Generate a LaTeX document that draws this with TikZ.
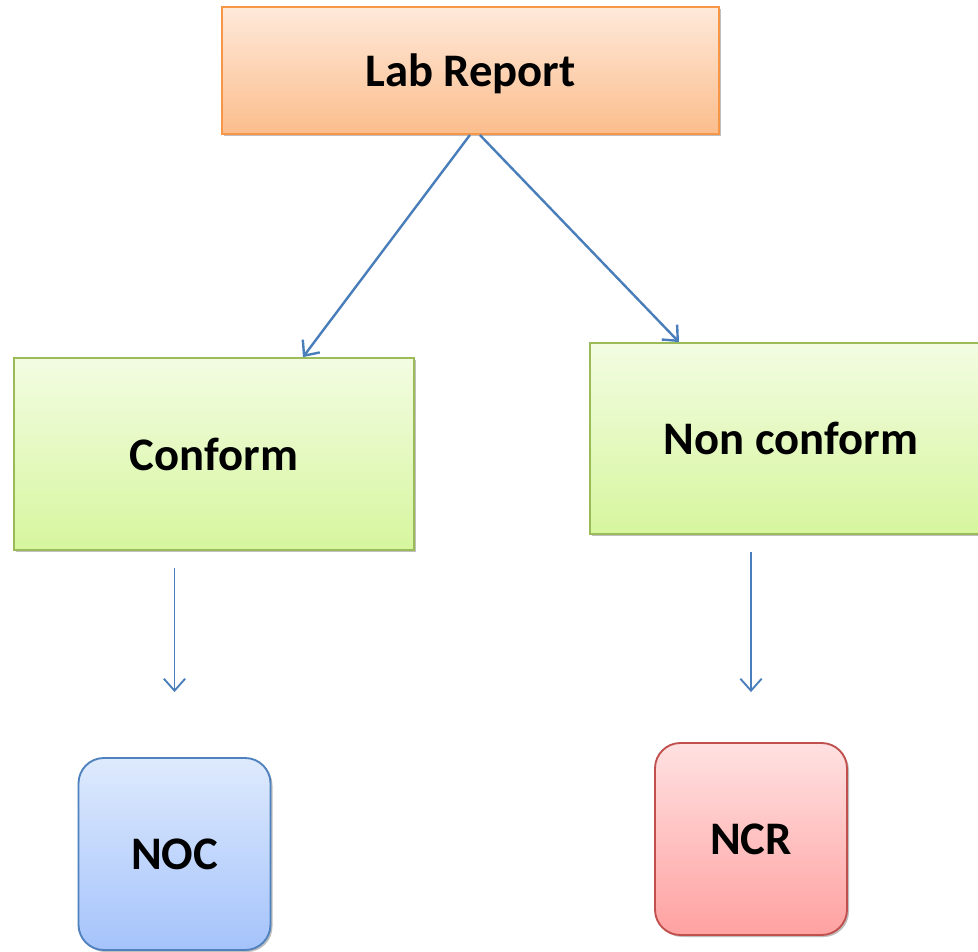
\documentclass[tikz,border=0pt]{standalone}
\usepackage{fontspec}
\setmainfont{Carlito}
\usetikzlibrary{arrows.meta,shadows}
\definecolor{labline}{HTML}{F79646}
\definecolor{labtop}{HTML}{FEE9DA}
\definecolor{labbot}{HTML}{FBBD8C}
\definecolor{okline}{HTML}{9BBB59}
\definecolor{oktop}{HTML}{F3FCE2}
\definecolor{okbot}{HTML}{D6F69E}
\definecolor{nocline}{HTML}{4F81BD}
\definecolor{noctop}{HTML}{DEEAFD}
\definecolor{nocbot}{HTML}{A5C3FB}
\definecolor{ncrline}{HTML}{C0504D}
\definecolor{ncrtop}{HTML}{FFE1E1}
\definecolor{ncrbot}{HTML}{FFA1A1}
\definecolor{arrowblue}{HTML}{4A7EBB}
\begin{document}
\begin{tikzpicture}[x=0.75pt,y=-0.75pt,%
% common options for blocks:
block/.style = {draw, line width=1.4pt, align=center, inner sep=0,
            text depth=0pt,
            font=\fontsize{35}{42}\selectfont\bfseries,
            drop shadow={shadow xshift=1.5pt, shadow yshift=-1.5pt,
            opacity=0.25, fill=black}},
% common options for the rounded end boxes:
endbox/.style = {block, rounded corners=19pt,
            minimum width=144pt, minimum height=144pt},
% common options for the arrows:
link/.style = {draw=arrowblue, -{Straight Barb[length=9pt,width=16pt]}}]
\useasboundingbox (0,0) rectangle (978,951);
\node[block,draw=labline,top color=labtop,bottom color=labbot,
      minimum width=372.75pt,minimum height=95.25pt] (lab) at (470.5,70.5) {Lab Report};
\node[block,draw=okline,top color=oktop,bottom color=okbot,
      minimum width=300pt,minimum height=144pt] (conf) at (214,454) {Conform};
\node[block,draw=okline,top color=oktop,bottom color=okbot,
      minimum width=301.5pt,minimum height=143.25pt] (nconf) at (791,438.5) {Non conform};
\node[endbox,draw=nocline,top color=noctop,bottom color=nocbot] (noc) at (174.5,854) {NOC};
\node[endbox,draw=ncrline,top color=ncrtop,bottom color=ncrbot] (ncr) at (751,839) {NCR};
\draw[link,line width=1.8pt] ([xshift=-0.4pt]lab.south) to ([xshift=66.75pt]conf.north);
\draw[link,line width=1.8pt] ([xshift=7pt]lab.south) to ([xshift=-84pt]nconf.north);
\draw[link,line width=1.4pt] ([yshift=-12.75pt]conf.south -| noc.north) to ([yshift=48.75pt]noc.north);
\draw[link,line width=1.4pt] ([yshift=-12.75pt]nconf.south -| ncr.north) to ([yshift=37.5pt]ncr.north);
\end{tikzpicture}
\end{document}
